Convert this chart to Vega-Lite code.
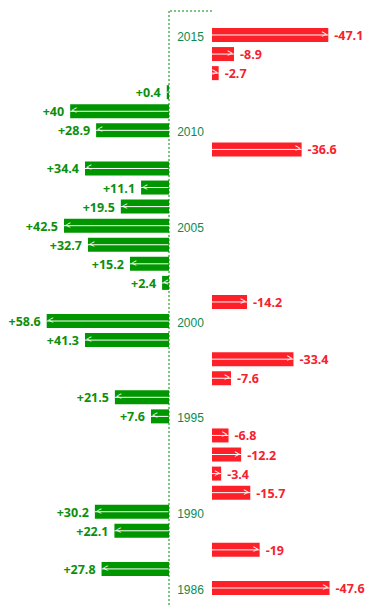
{
  "$schema": "https://vega.github.io/schema/vega-lite/v6.json",
  "padding": {"top": 10, "left": 0, "right": 0, "bottom": 0},
  "background": "white",
  "spacing": 0,
  "bounds": "flush",
  "config": {"view": {"stroke": null}, "concat": {"spacing": 0}},
  "datasets": {
    "rows": [
      {"year": 2015, "value": -47.1, "len": 47.1, "label": "-47.1"},
      {"year": 2014, "value": -8.9, "len": 8.9, "label": "-8.9"},
      {"year": 2013, "value": -2.7, "len": 2.7, "label": "-2.7"},
      {"year": 2012, "value": 0.4, "len": 0.9, "label": "+0.4"},
      {"year": 2011, "value": 40, "len": 40, "label": "+40"},
      {"year": 2010, "value": 28.9, "len": 29.5, "label": "+28.9"},
      {"year": 2009, "value": -36.6, "len": 36.3, "label": "-36.6"},
      {"year": 2008, "value": 34.4, "len": 34, "label": "+34.4"},
      {"year": 2007, "value": 11.1, "len": 11.3, "label": "+11.1"},
      {"year": 2006, "value": 19.5, "len": 19.5, "label": "+19.5"},
      {"year": 2005, "value": 42.5, "len": 42.5, "label": "+42.5"},
      {"year": 2004, "value": 32.7, "len": 32.8, "label": "+32.7"},
      {"year": 2003, "value": 15.2, "len": 15.8, "label": "+15.2"},
      {"year": 2002, "value": 2.4, "len": 2.8, "label": "+2.4"},
      {"year": 2001, "value": -14.2, "len": 14.2, "label": "-14.2"},
      {"year": 2000, "value": 58.6, "len": 49.5, "label": "+58.6"},
      {"year": 1999, "value": 41.3, "len": 34, "label": "+41.3"},
      {"year": 1998, "value": -33.4, "len": 33, "label": "-33.4"},
      {"year": 1997, "value": -7.6, "len": 7.7, "label": "-7.6"},
      {"year": 1996, "value": 21.5, "len": 21.9, "label": "+21.5"},
      {"year": 1995, "value": 7.6, "len": 7.3, "label": "+7.6"},
      {"year": 1994, "value": -6.8, "len": 6.7, "label": "-6.8"},
      {"year": 1993, "value": -12.2, "len": 11.8, "label": "-12.2"},
      {"year": 1992, "value": -3.4, "len": 3.7, "label": "-3.4"},
      {"year": 1991, "value": -15.7, "len": 15.5, "label": "-15.7"},
      {"year": 1990, "value": 30.2, "len": 30, "label": "+30.2"},
      {"year": 1989, "value": 22.1, "len": 22.1, "label": "+22.1"},
      {"year": 1988, "value": -19, "len": 19.3, "label": "-19"},
      {"year": 1987, "value": 27.8, "len": 27.3, "label": "+27.8"},
      {"year": 1986, "value": -47.6, "len": 47.6, "label": "-47.6"}
    ]
  },
  "hconcat": [
    {
      "width": 169,
      "height": 595,
      "data": {"name": "rows"},
      "transform": [{"filter": "datum.value > 0"}],
      "encoding": {
        "y": {
          "field": "year",
          "type": "ordinal",
          "axis": null,
          "scale": {
            "type": "band",
            "domain": [2015, 2014, 2013, 2012, 2011, 2010, 2009, 2008, 2007, 2006, 2005, 2004, 2003, 2002, 2001, 2000, 1999, 1998, 1997, 1996, 1995, 1994, 1993, 1992, 1991, 1990, 1989, 1988, 1987, 1986],
            "paddingInner": 0.266,
            "paddingOuter": 0.734,
            "align": 0.607
          }
        },
        "x": {
          "field": "len",
          "type": "quantitative",
          "axis": null,
          "scale": {"domain": [0, 68.4], "reverse": true}
        }
      },
      "layer": [
        {"mark": {"type": "bar", "color": "#009600"}},
        {
          "mark": {"type": "rule", "color": "white", "strokeWidth": 1},
          "encoding": {"x2": {"datum": 0}}
        },
        {
          "mark": {"type": "text", "text": "<", "color": "white", "align": "left", "baseline": "middle", "dx": 1, "fontSize": 10, "font": "Open Sans"}
        },
        {
          "mark": {"type": "text", "align": "right", "baseline": "middle", "dx": -6, "dy": 1, "fontWeight": "bold", "fontSize": 12.5, "font": "Open Sans", "color": "#0d8f0d"},
          "encoding": {"text": {"field": "label", "type": "nominal"}}
        }
      ]
    },
    {
      "width": 43,
      "height": 595,
      "resolve": {"scale": {"y": "independent"}},
      "layer": [
        {
          "data": {"name": "rows"},
          "transform": [{"filter": {"field": "year", "oneOf": [2015, 2010, 2005, 2000, 1995, 1990, 1986]}}],
          "mark": {"type": "text", "align": "center", "baseline": "middle", "dy": 2, "fontSize": 12, "font": "Liberation Sans", "color": "#0e8a50"},
          "encoding": {
            "x": {"datum": 0.5, "type": "quantitative", "axis": null, "scale": {"domain": [0, 1]}},
            "y": {
              "field": "year",
              "type": "ordinal",
              "axis": null,
              "scale": {
                "type": "band",
                "domain": [2015, 2014, 2013, 2012, 2011, 2010, 2009, 2008, 2007, 2006, 2005, 2004, 2003, 2002, 2001, 2000, 1999, 1998, 1997, 1996, 1995, 1994, 1993, 1992, 1991, 1990, 1989, 1988, 1987, 1986],
                "paddingInner": 0.266,
                "paddingOuter": 0.734,
                "align": 0.607
              }
            },
            "text": {"field": "year", "type": "nominal"}
          }
        },
        {
          "data": {"values": [{}]},
          "mark": {"type": "rule", "color": "#008a00", "strokeWidth": 1, "strokeDash": [2, 2]},
          "encoding": {
            "x": {"datum": 0, "type": "quantitative", "axis": null, "scale": {"domain": [0, 1]}}
          }
        },
        {
          "data": {"values": [{}]},
          "mark": {"type": "rule", "color": "#008a00", "strokeWidth": 1, "strokeDash": [2, 2]},
          "encoding": {
            "y": {"datum": 1, "type": "quantitative", "axis": null, "scale": {"domain": [0, 1]}}
          }
        }
      ]
    },
    {
      "width": 159,
      "height": 595,
      "data": {"name": "rows"},
      "transform": [{"filter": "datum.value < 0"}],
      "encoding": {
        "y": {
          "field": "year",
          "type": "ordinal",
          "axis": null,
          "scale": {
            "type": "band",
            "domain": [2015, 2014, 2013, 2012, 2011, 2010, 2009, 2008, 2007, 2006, 2005, 2004, 2003, 2002, 2001, 2000, 1999, 1998, 1997, 1996, 1995, 1994, 1993, 1992, 1991, 1990, 1989, 1988, 1987, 1986],
            "paddingInner": 0.266,
            "paddingOuter": 0.734,
            "align": 0.607
          }
        },
        "x": {
          "field": "len",
          "type": "quantitative",
          "axis": null,
          "scale": {"domain": [0, 64.4]}
        }
      },
      "layer": [
        {"mark": {"type": "bar", "color": "#fe2029"}},
        {
          "mark": {"type": "rule", "color": "white", "strokeWidth": 1},
          "encoding": {"x2": {"datum": 0}}
        },
        {
          "mark": {"type": "text", "text": ">", "color": "white", "align": "right", "baseline": "middle", "dx": -1, "fontSize": 10, "font": "Open Sans"}
        },
        {
          "mark": {"type": "text", "align": "left", "baseline": "middle", "dx": 6, "dy": 1, "fontWeight": "bold", "fontSize": 12.5, "font": "Open Sans", "color": "#f5222d"},
          "encoding": {"text": {"field": "label", "type": "nominal"}}
        }
      ]
    }
  ]
}
